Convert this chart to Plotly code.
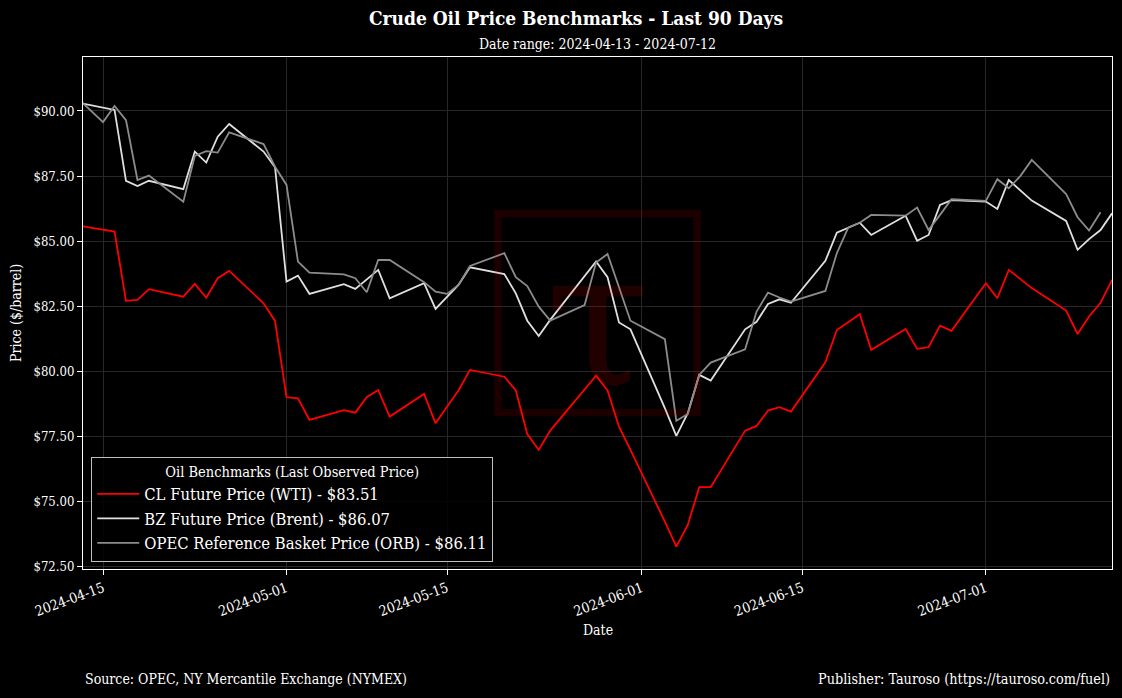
import plotly.graph_objects as go

# ---------------- data ----------------
wti_dates = ["2024-04-12","2024-04-15","2024-04-16","2024-04-17","2024-04-18","2024-04-19",
             "2024-04-22","2024-04-23","2024-04-24","2024-04-25","2024-04-26",
             "2024-04-29","2024-04-30","2024-05-01","2024-05-02","2024-05-03",
             "2024-05-06","2024-05-07","2024-05-08","2024-05-09","2024-05-10",
             "2024-05-13","2024-05-14","2024-05-15","2024-05-16","2024-05-17",
             "2024-05-20","2024-05-21","2024-05-22","2024-05-23","2024-05-24",
             "2024-05-28","2024-05-29","2024-05-30","2024-05-31",
             "2024-06-03","2024-06-04","2024-06-05","2024-06-06","2024-06-07",
             "2024-06-10","2024-06-11","2024-06-12","2024-06-13","2024-06-14",
             "2024-06-17","2024-06-18","2024-06-20","2024-06-21",
             "2024-06-24","2024-06-25","2024-06-26","2024-06-27","2024-06-28",
             "2024-07-01","2024-07-02","2024-07-03","2024-07-05",
             "2024-07-08","2024-07-09","2024-07-10","2024-07-11","2024-07-12"]
wti_values = [85.66,85.43,85.37,82.71,82.75,83.16,
              82.87,83.36,82.83,83.58,83.86,
              82.62,81.94,79.01,78.97,78.14,
              78.52,78.42,79.01,79.29,78.27,
              79.14,78.01,78.65,79.27,80.06,
              79.80,79.27,77.60,76.99,77.73,
              79.84,79.27,77.88,76.99,
              74.24,73.28,74.11,75.56,75.56,
              77.73,77.91,78.50,78.63,78.46,
              80.35,81.59,82.20,80.83,
              81.63,80.87,80.93,81.76,81.56,
              83.39,82.81,83.90,83.20,
              82.34,81.44,82.11,82.64,83.51]

brent_dates = wti_dates
brent_values = [90.39,90.12,90.04,87.32,87.12,87.32,
                87.00,88.44,88.02,89.01,89.50,
                88.44,87.84,83.45,83.68,82.98,
                83.35,83.17,83.54,83.90,82.81,
                83.39,82.40,82.86,83.32,84.00,
                83.74,83.00,81.95,81.36,81.98,
                84.22,83.62,81.88,81.62,
                78.59,77.53,78.40,79.87,79.65,
                81.62,81.91,82.59,82.77,82.64,
                84.25,85.33,85.71,85.24,
                85.98,85.02,85.24,86.39,86.58,
                86.52,86.24,87.35,86.56,
                85.78,84.67,85.08,85.43,86.07]

orb_dates = ["2024-04-12","2024-04-15","2024-04-16","2024-04-17","2024-04-18","2024-04-19",
             "2024-04-22","2024-04-23","2024-04-24","2024-04-25","2024-04-26",
             "2024-04-29","2024-04-30","2024-05-01","2024-05-02","2024-05-03",
             "2024-05-06","2024-05-07","2024-05-08","2024-05-09","2024-05-10",
             "2024-05-13","2024-05-14","2024-05-15","2024-05-16","2024-05-17",
             "2024-05-20","2024-05-21","2024-05-22","2024-05-23","2024-05-24",
             "2024-05-27","2024-05-28","2024-05-29","2024-05-30","2024-05-31",
             "2024-06-03","2024-06-04","2024-06-05","2024-06-06","2024-06-07",
             "2024-06-10","2024-06-11","2024-06-12","2024-06-13","2024-06-14",
             "2024-06-17","2024-06-18","2024-06-19","2024-06-20","2024-06-21",
             "2024-06-24","2024-06-25","2024-06-26","2024-06-27","2024-06-28",
             "2024-07-01","2024-07-02","2024-07-03","2024-07-04","2024-07-05",
             "2024-07-08","2024-07-09","2024-07-10","2024-07-11"]
orb_values = [90.81,89.57,90.19,89.65,87.35,87.52,
              86.52,88.27,88.46,88.40,89.18,
              88.73,87.86,87.16,84.22,83.79,
              83.73,83.58,83.04,84.28,84.28,
              83.43,83.06,82.98,83.32,84.05,
              84.54,83.62,83.28,82.49,81.95,
              82.55,84.18,84.51,83.23,81.95,
              81.24,78.11,78.37,79.87,80.34,
              80.85,82.30,83.03,82.84,82.68,
              83.09,84.54,85.53,85.71,86.01,
              85.98,86.29,85.43,86.01,86.61,
              86.55,87.38,87.03,87.50,88.12,
              86.81,85.92,85.41,86.11]

series_names = ["CL Future Price (WTI)", "BZ Future Price (Brent)", "OPEC Reference Basket Price (ORB)"]
series_colors = ["#ff0000", "#e0e0e0", "#8c8c8c"]

x_tick_vals = ["2024-04-15","2024-05-01","2024-05-15","2024-06-01","2024-06-15","2024-07-01"]
y_tick_vals = [72.5,75.0,77.5,80.0,82.5,85.0,87.5,90.0]
y_tick_text = ["$72.50","$75.00","$77.50","$80.00","$82.50","$85.00","$87.50","$90.00"]

# ---------------- figure ----------------
FONT = "DejaVu Serif Condensed"
fig = go.Figure()
for name, dts, vals, col in zip(series_names,
                                [wti_dates, brent_dates, orb_dates],
                                [wti_values, brent_values, orb_values],
                                series_colors):
    fig.add_trace(go.Scatter(x=dts, y=vals, mode="lines",
                             name=f"{name} - ${vals[-1]:.2f}",
                             line=dict(color=col, width=1.8)))

fig.update_layout(
    width=1122, height=698,
    paper_bgcolor="#000000", plot_bgcolor="#000000",
    margin=dict(l=83, r=10, t=57, b=129),
    font=dict(family=FONT, color="#ffffff", size=12),
    title=dict(text="<b>Crude Oil Price Benchmarks - Last 90 Days</b>",
               x=576/1122, xanchor="center", xref="container",
               y=1-18/698, yanchor="middle",
               font=dict(family=FONT, size=19, color="#ffffff")),
    showlegend=True,
    legend=dict(x=0.008, y=0.014, xanchor="left", yanchor="bottom",
                bgcolor="rgba(0,0,0,0.85)", bordercolor="#bfbfbf", borderwidth=1,
                font=dict(family=FONT, size=16.5, color="#ffffff"),
                itemwidth=42,
                title=dict(text="Oil Benchmarks (Last Observed Price)", side="top center",
                           font=dict(family=FONT, size=14.5, color="#ffffff")),
                tracegroupgap=0),
    xaxis=dict(type="date", range=["2024-04-13 06:00", "2024-07-12 00:00"],
               tickvals=x_tick_vals, tickformat="%Y-%m-%d", tickangle=-20,
               showline=True, mirror=True, linecolor="#ffffff", linewidth=1,
               ticks="outside", tickcolor="#ffffff", ticklen=5,
               showgrid=True, gridcolor="#272727", gridwidth=1, zeroline=False,
               tickfont=dict(family=FONT, size=14, color="#ffffff")),
    yaxis=dict(range=[72.42, 92.07], tickvals=y_tick_vals, ticktext=y_tick_text,
               showline=True, mirror=True, linecolor="#ffffff", linewidth=1,
               ticks="outside", tickcolor="#ffffff", ticklen=5,
               showgrid=True, gridcolor="#272727", gridwidth=1, zeroline=False,
               tickfont=dict(family=FONT, size=13, color="#ffffff")),
)

# watermark (box + glyph) centered in the plot area
fig.add_shape(type="rect", xref="paper", yref="paper",
              x0=0.5-0.0967, x1=0.5+0.0967, y0=0.5-0.1943, y1=0.5+0.1943,
              line=dict(color="rgba(255,0,0,0.11)", width=7.5), layer="above")
fig.add_annotation(text="τ", xref="paper", yref="paper", x=0.5, y=0.49,
                   showarrow=False, font=dict(family="DejaVu Serif", size=190,
                                              color="rgba(255,0,0,0.13)"))

# subtitle, axis titles, footers
fig.add_annotation(text="Date range: 2024-04-13 - 2024-07-12", xref="paper", yref="paper",
                   x=0.5, y=1+(57-44)/512, yanchor="middle", showarrow=False,
                   font=dict(family=FONT, size=14, color="#ffffff"))
fig.add_annotation(text="Date", xref="paper", yref="paper",
                   x=0.5, y=-(630-569)/512, yanchor="middle", showarrow=False,
                   font=dict(family=FONT, size=14, color="#ffffff"))
fig.add_annotation(text="Price ($/barrel)", xref="paper", yref="paper",
                   x=(16-83)/1029, y=0.5, textangle=-90, xanchor="center", yanchor="middle",
                   showarrow=False, font=dict(family=FONT, size=14, color="#ffffff"))
fig.add_annotation(text="Source: OPEC, NY Mercantile Exchange (NYMEX)", xref="paper", yref="paper",
                   x=0, y=-(679-569)/512, xanchor="left", yanchor="middle", showarrow=False,
                   font=dict(family=FONT, size=14, color="#ffffff"))
fig.add_annotation(text="Publisher: Tauroso (https://tauroso.com/fuel)", xref="paper", yref="paper",
                   x=1, y=-(679-569)/512, xanchor="right", yanchor="middle", showarrow=False,
                   font=dict(family=FONT, size=14.3, color="#ffffff"))

fig.write_html("out.html")
